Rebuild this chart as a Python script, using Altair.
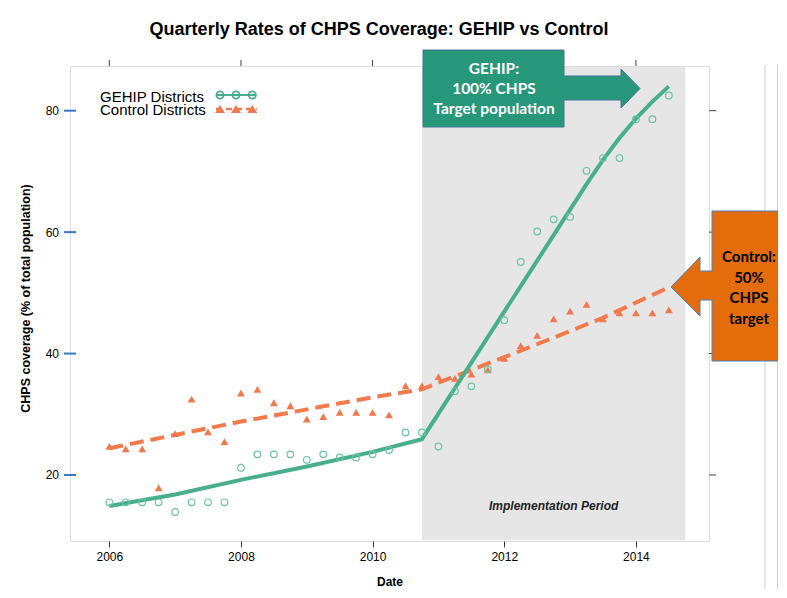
import altair as alt
import pandas as pd

# ---------------- data ----------------
dates = [2006.0, 2006.25, 2006.5, 2006.75, 2007.0, 2007.25, 2007.5, 2007.75,
         2008.0, 2008.25, 2008.5, 2008.75, 2009.0, 2009.25, 2009.5, 2009.75,
         2010.0, 2010.25, 2010.5, 2010.75, 2011.0, 2011.25, 2011.5, 2011.75,
         2012.0, 2012.25, 2012.5, 2012.75, 2013.0, 2013.25, 2013.5, 2013.75,
         2014.0, 2014.25, 2014.5]
gehip_obs = [15.5, 15.5, 15.5, 15.5, 13.9, 15.5, 15.5, 15.5,
             21.2, 23.4, 23.4, 23.4, 22.5, 23.4, 22.9, 22.9,
             23.4, 24.1, 27.0, 27.0, 24.7, 33.8, 34.6, 37.4,
             45.5, 55.1, 60.1, 62.1, 62.5, 70.1, 72.2, 72.2,
             78.6, 78.6, 82.5]
control_obs = [24.7, 24.3, 24.3, 17.9, 26.8, 32.5, 27.1, 25.5,
               33.5, 34.1, 31.9, 31.4, 29.2, 29.6, 30.3, 30.3,
               30.3, 29.9, 34.7, 34.7, 36.2, 35.9, 36.6, 37.3,
               39.2, 41.3, 43.0, 45.7, 47.0, 48.1, 45.7, 46.7,
               46.7, 46.7, 47.2]

gehip_fit_dates = [2006.0, 2007.0, 2008.0, 2009.0, 2010.0, 2010.75, 2011.25,
                   2011.75, 2012.25, 2012.75, 2013.25, 2013.5, 2013.75,
                   2014.0, 2014.25, 2014.5]
gehip_fit = [14.9, 16.8, 19.2, 21.4, 23.8, 25.9, 34.3,
             42.7, 51.1, 59.5, 67.9, 71.9, 75.5,
             78.7, 81.5, 84.0]
control_fit_dates = [2006.0, 2008.0, 2010.0, 2010.75, 2011.0, 2012.0, 2013.0,
                     2013.5, 2014.5]
control_fit = [24.4, 28.8, 32.8, 34.1, 35.2, 39.4, 43.7, 45.9, 50.9]

impl_period = [2010.75, 2014.75]
x_ticks = [2006, 2008, 2010, 2012, 2014]
y_ticks = [20, 40, 60, 80]

title_text = "Quarterly Rates of CHPS Coverage: GEHIP vs Control"
legend_labels = ["GEHIP Districts", "Control Districts"]
impl_label = "Implementation Period"
gehip_callout = ["GEHIP:", "100% CHPS", "Target population"]
control_callout = ["Control:", "50%", "CHPS", "target"]

# ---------------- styling ----------------
GREEN_LINE = "#47b08a"
GREEN_PT = "#6cc4a4"
ORANGE_LINE = "#f47a4c"
ORANGE_PT = "#f27850"
FONT = "Liberation Sans"
W, H = 639, 475

xs = alt.Scale(domain=[2005.403, 2015.11], nice=False, zero=False)
ys = alt.Scale(domain=[9.13, 87.36], nice=False, zero=False)

x_axis = alt.Axis(values=x_ticks, format="d", grid=False, domain=False,
                  tickColor="#333333", tickSize=6, tickWidth=1,
                  labelFont=FONT, labelFontSize=12, labelColor="black",
                  labelPadding=4.5, title="Date", titleFont=FONT,
                  titleFontSize=12, titleFontWeight="bold",
                  titleColor="black", titlePadding=13.5)
y_axis = alt.Axis(values=y_ticks, grid=False, domain=False, ticks=False,
                  labelFont=FONT, labelFontSize=12, labelColor="black",
                  labelPadding=11.5,
                  title="CHPS coverage (% of total population)",
                  titleFont=FONT, titleFontSize=12.5, titleFontWeight="bold",
                  titleColor="black", titleX=-38, titleY=232)


def X(field):
    return alt.X(field, type="quantitative", scale=xs, axis=x_axis)


def Y(field):
    return alt.Y(field, type="quantitative", scale=ys, axis=y_axis)


obs = pd.DataFrame({"date": dates, "gehip": gehip_obs, "control": control_obs})
gfit = pd.DataFrame({"date": gehip_fit_dates, "value": gehip_fit})
cfit = pd.DataFrame({"date": control_fit_dates, "value": control_fit})
shade = pd.DataFrame({"date": [impl_period[0]], "end": [impl_period[1]],
                      "mid": [(impl_period[0] + impl_period[1]) / 2],
                      "label": [impl_label]})
xt = pd.DataFrame({"date": x_ticks})
yt = pd.DataFrame({"value": y_ticks})
one = pd.DataFrame({"k": [0]})

layers = []

# implementation period shading
layers.append(alt.Chart(shade).mark_rect(color="#e6e6e6").encode(
    x=X("date"), x2="end", y=alt.value(0.8), y2=alt.value(H - 0.8)))
layers.append(alt.Chart(shade).mark_text(
    font=FONT, fontSize=12, fontStyle="italic", fontWeight="bold",
    color="#222222", baseline="middle", align="center").encode(
    x=X("mid"), y=alt.value(440), text="label:N"))

# fitted lines
layers.append(alt.Chart(cfit).mark_line(
    color=ORANGE_LINE, strokeWidth=4, strokeDash=[14, 7]).encode(
    x=X("date"), y=Y("value")))
layers.append(alt.Chart(gfit).mark_line(
    color=GREEN_LINE, strokeWidth=4).encode(x=X("date"), y=Y("value")))

# observed points
layers.append(alt.Chart(obs).mark_point(
    shape="triangle-up", filled=True, size=62, color=ORANGE_PT, opacity=1
).encode(x=X("date"), y=Y("control")))
layers.append(alt.Chart(obs).mark_point(
    shape="circle", filled=False, size=44, strokeWidth=1.2, color=GREEN_PT,
    opacity=1).encode(x=X("date"), y=Y("gehip")))

# axis decorations: blue left ticks, right ticks, top ticks
layers.append(alt.Chart(yt).mark_rule(color="#3b78c4", strokeWidth=2).encode(
    y=Y("value"), x=alt.value(-6), x2=alt.value(6)))
layers.append(alt.Chart(yt).mark_rule(color="#444444", strokeWidth=1).encode(
    y=Y("value"), x=alt.value(W), x2=alt.value(W + 7)))
layers.append(alt.Chart(xt).mark_rule(color="#444444", strokeWidth=1).encode(
    x=X("date"), y=alt.value(0), y2=alt.value(-6)))

# faint page lines on the right
for px in [695, 707.5]:
    layers.append(alt.Chart(one).mark_rule(color="#d0d0d0", strokeWidth=1).encode(
        x=alt.value(px), y=alt.value(-1), y2=alt.value(523)))

# legend
legend_circles = ("M146,29L186.7,29"
                  "M153.6,29A3.6,3.6 0 1,0 146.4,29A3.6,3.6 0 1,0 153.6,29"
                  "M169.6,29A3.6,3.6 0 1,0 162.4,29A3.6,3.6 0 1,0 169.6,29"
                  "M185.9,29A3.6,3.6 0 1,0 178.7,29A3.6,3.6 0 1,0 185.9,29")
layers.append(alt.Chart(one).mark_point(
    shape=legend_circles, size=4, filled=False, stroke=GREEN_LINE,
    strokeWidth=1.8, opacity=1).encode(x=alt.value(0), y=alt.value(0)))
layers.append(alt.Chart(one).mark_rule(
    color=ORANGE_PT, strokeWidth=2.5, strokeDash=[6, 4]).encode(
    x=alt.value(146), x2=alt.value(186.7), y=alt.value(43)))
legend_tris = ("M145,47L150,39L155,47Z"
               "M161,47L166,39L171,47Z"
               "M177.3,47L182.3,39L187.3,47Z")
layers.append(alt.Chart(one).mark_point(
    shape=legend_tris, size=4, filled=True, fill=ORANGE_PT, strokeWidth=0,
    opacity=1).encode(x=alt.value(0), y=alt.value(0)))
for i, lab in enumerate(legend_labels):
    layers.append(alt.Chart(one).mark_text(
        font=FONT, fontSize=15, color="black", align="left",
        baseline="alphabetic").encode(
        x=alt.value(30), y=alt.value(35.7 + 13.6 * i), text=alt.value(lab)))

# callouts
green_path = ("M353,-16L494,-16L494,10L551,10L551,3L570,22.5L551,42L551,34"
              "L494,34L494,61L353,61Z")
layers.append(alt.Chart(one).mark_point(
    shape=green_path, size=4, filled=True, fill="#27977a", stroke="#4472a0",
    strokeWidth=1, opacity=1).encode(x=alt.value(0), y=alt.value(0)))
for i, line in enumerate(gehip_callout):
    layers.append(alt.Chart(one).mark_text(
        font="Lato", fontSize=15.5, fontWeight="bold", color="white",
        align="center", baseline="middle").encode(
        x=alt.value(424), y=alt.value(3 + 20 * i), text=alt.value(line)))

orange_path = ("M708,145L642,145L642,205L630,205L630,191L601,221L630,250"
               "L630,234L642,234L642,295L708,295Z")
layers.append(alt.Chart(one).mark_point(
    shape=orange_path, size=4, filled=True, fill="#e46c0a", stroke="#4a7ebb",
    strokeWidth=1, opacity=1).encode(x=alt.value(0), y=alt.value(0)))
for i, line in enumerate(control_callout):
    layers.append(alt.Chart(one).mark_text(
        font="Lato", fontSize=15, fontWeight="bold", color="black",
        align="center", baseline="middle").encode(
        x=alt.value(679), y=alt.value(191 + 20.5 * i), text=alt.value(line)))

# title
layers.append(alt.Chart(one).mark_text(
    font=FONT, fontSize=18, fontWeight="bold", color="black", align="center",
    baseline="alphabetic").encode(
    x=alt.value(309), y=alt.value(-31.5), text=alt.value(title_text)))

chart = alt.layer(*layers).properties(
    width=W, height=H,
    autosize=alt.AutoSizeParams(type="none"),
    padding={"left": 62, "top": 58, "right": 69, "bottom": 48},
).configure_view(stroke="#6e6e6e", strokeWidth=1.5).configure(background="white")

chart.save("out.html", embed_options={"renderer": "svg", "actions": False})
